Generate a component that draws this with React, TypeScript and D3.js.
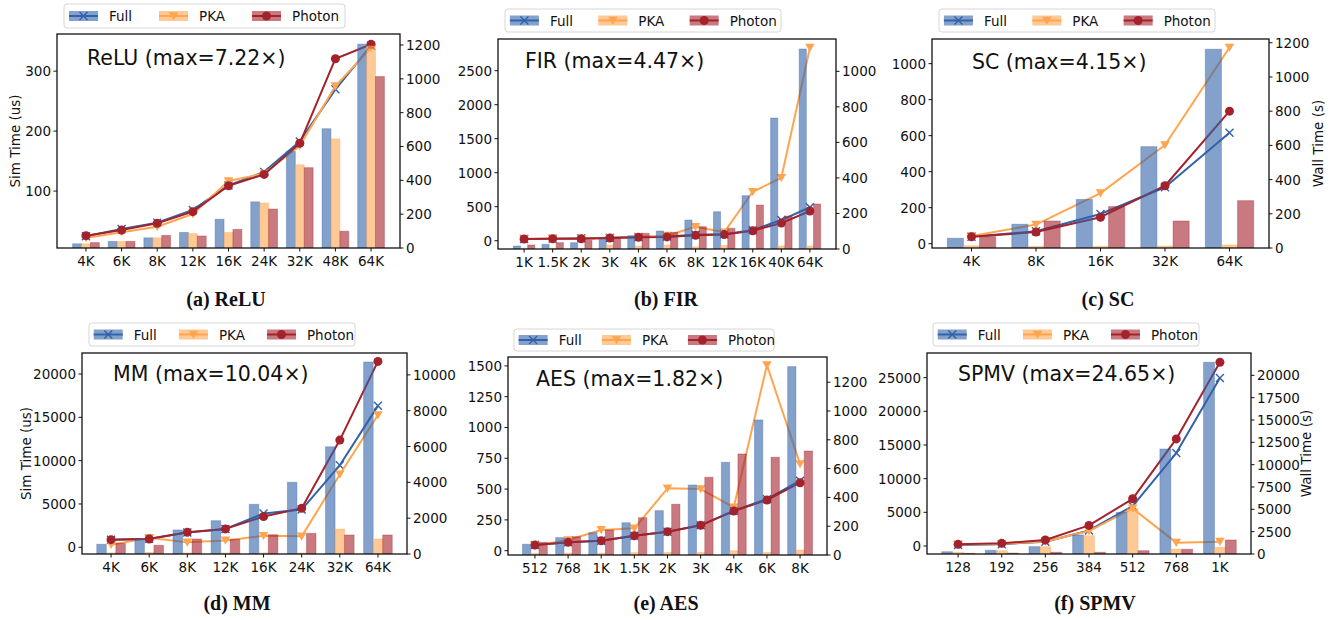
import * as d3 from 'd3'

// ---- data ----
const reluCats = ['4K', '6K', '8K', '12K', '16K', '24K', '32K', '48K', '64K']
const reluFullSim = [12, 16, 22, 31, 53, 82, 166, 204, 345]
const reluPkaSim = [12, 16, 22, 29, 31, 80, 144, 187, 342]
const reluPhotonSim = [14, 16, 26, 25, 36, 70, 139, 33, 291]
const reluFullWall = [70, 112, 150, 225, 370, 450, 630, 938, 1195]
const reluPkaWall = [59, 93, 126, 201, 396, 440, 605, 957, 1184]
const reluPhotonWall = [73, 106, 146, 215, 368, 435, 619, 1119, 1204]
const reluLeftTicks = [100, 200, 300]
const reluRightTicks = [0, 200, 400, 600, 800, 1000, 1200]

const firCats = ['1K', '1.5K', '2K', '3K', '4K', '6K', '8K', '12K', '16K', '40K', '64K']
const firFullSim = [-78, -53, -29, 20, 74, 143, 304, 426, 662, 1804, 2819]
const firPkaSim = [-112, -110, -110, -63, -78, -63, -90, -70, -110, -78, -78]
const firPhotonSim = [-63, -29, 5, 44, 108, 123, 206, 182, 525, 363, 540]
const firFullWall = [56, 58, 60, 63, 68, 71, 80, 83, 106, 163, 235]
const firPkaWall = [56, 58, 58, 62, 66, 75, 125, 94, 322, 401, 1133]
const firPhotonWall = [56, 58, 58, 62, 66, 68, 77, 81, 103, 146, 214]
const firLeftTicks = [0, 500, 1000, 1500, 2000, 2500]
const firRightTicks = [0, 200, 400, 600, 800, 1000]

const scCats = ['4K', '8K', '16K', '32K', '64K']
const scFullSim = [30, 108, 246, 539, 1080]
const scPkaSim = [-11, -15, -15, -13, -7]
const scPhotonSim = [39, 126, 206, 126, 239]
const scFullWall = [66, 98, 199, 355, 674]
const scPkaWall = [70, 137, 321, 602, 1172]
const scPhotonWall = [66, 93, 180, 364, 800]
const scLeftTicks = [0, 200, 400, 600, 800, 1000]
const scRightTicks = [0, 200, 400, 600, 800, 1000, 1200]

const mmCats = ['4K', '6K', '8K', '12K', '16K', '24K', '32K', '64K']
const mmFullSim = [350, 920, 2000, 3070, 4960, 7500, 11600, 21380]
const mmPkaSim = [-650, -580, -650, -650, -650, -650, 2110, 960]
const mmPhotonSim = [460, 230, 960, 920, 1450, 1610, 1420, 1420]
const mmFullWall = [800, 850, 1200, 1400, 2260, 2480, 4950, 8270]
const mmPkaWall = [520, 900, 650, 760, 1020, 985, 4440, 7760]
const mmPhotonWall = [800, 840, 1210, 1400, 2090, 2550, 6360, 10750]
const mmLeftTicks = [0, 5000, 10000, 15000, 20000]
const mmRightTicks = [0, 2000, 4000, 6000, 8000, 10000]

const aesCats = ['512', '768', '1K', '1.5K', '2K', '3K', '4K', '6K', '8K']
const aesFullSim = [52, 106, 146, 227, 325, 533, 717, 1061, 1494]
const aesPkaSim = [-21, -20, -20, -15, -15, -15, 0, -15, 5]
const aesPhotonSim = [68, 114, 168, 268, 377, 596, 785, 758, 809]
const aesFullWall = [69, 88, 99, 134, 162, 206, 308, 388, 516]
const aesPkaWall = [65, 104, 174, 185, 463, 458, 331, 1319, 632]
const aesPhotonWall = [69, 88, 99, 134, 162, 206, 305, 382, 502]
const aesLeftTicks = [0, 250, 500, 750, 1000, 1250, 1500]
const aesRightTicks = [0, 200, 400, 600, 800, 1000, 1200]

const spmvCats = ['128', '192', '256', '384', '512', '768', '1K']
const spmvFullSim = [-850, -640, -100, 1630, 5000, 14400, 27280]
const spmvPkaSim = [-940, -700, -100, 1530, 5540, -450, -200]
const spmvPhotonSim = [-1100, -1060, -940, -940, -700, -490, 890]
const spmvFullWall = [1000, 1100, 1380, 2640, 5360, 11300, 19690]
const spmvPkaWall = [1050, 1150, 1400, 2570, 5100, 1270, 1380]
const spmvPhotonWall = [1080, 1190, 1570, 3200, 6180, 12880, 21470]
const spmvLeftTicks = [0, 5000, 10000, 15000, 20000, 25000]
const spmvRightTicks = [0, 2500, 5000, 7500, 10000, 12500, 15000, 17500, 20000]

const seriesNames = ['Full', 'PKA', 'Photon']
const BLUE = '#3262a8'
const ORANGE = '#ffa54f'
const RED = '#a3222b'
const colors = [BLUE, ORANGE, RED]
const markers = ['x', 'v', 'o']

const FONT = 'DejaVu Sans, sans-serif'
const TICK_SIZE = 13.5

type Layout = {
  left: number; right: number; top: number; bottom: number
  leftDomain: [number, number]; rightDomain: [number, number]
  legend: [number, number, number, number]
  title: [number, number]
  caption: [number, number]
  leftLabelX?: number
  rightLabelX?: number
}

type PanelData = {
  id: string
  title: string
  caption: string
  cats: string[]
  sim: number[][]
  wall: number[][]
  leftTicks: number[]
  rightTicks: number[]
  layout: Layout
}

const panels: PanelData[] = [
  {
    id: 'relu', title: 'ReLU (max=7.22×)', caption: '(a) ReLU', cats: reluCats,
    sim: [reluFullSim, reluPkaSim, reluPhotonSim], wall: [reluFullWall, reluPkaWall, reluPhotonWall],
    leftTicks: reluLeftTicks, rightTicks: reluRightTicks,
    layout: { left: 57, right: 400, top: 34, bottom: 248, leftDomain: [5, 362], rightDomain: [0, 1265],
      legend: [64, 4, 281, 24], title: [87, 65], caption: [226, 306], leftLabelX: 15 },
  },
  {
    id: 'fir', title: 'FIR (max=4.47×)', caption: '(b) FIR', cats: firCats,
    sim: [firFullSim, firPkaSim, firPhotonSim], wall: [firFullWall, firPkaWall, firPhotonWall],
    leftTicks: firLeftTicks, rightTicks: firRightTicks,
    layout: { left: 498, right: 836, top: 39, bottom: 249, leftDomain: [-122, 2966], rightDomain: [0, 1182],
      legend: [505, 9, 276, 23], title: [525, 68], caption: [666, 306] },
  },
  {
    id: 'sc', title: 'SC (max=4.15×)', caption: '(c) SC', cats: scCats,
    sim: [scFullSim, scPkaSim, scPhotonSim], wall: [scFullWall, scPkaWall, scPhotonWall],
    leftTicks: scLeftTicks, rightTicks: scRightTicks,
    layout: { left: 932, right: 1269, top: 39, bottom: 248, leftDomain: [-24, 1137], rightDomain: [0, 1222],
      legend: [939, 9, 276, 23], title: [972, 69], caption: [1108, 306], rightLabelX: 1318 },
  },
  {
    id: 'mm', title: 'MM (max=10.04×)', caption: '(d) MM', cats: mmCats,
    sim: [mmFullSim, mmPkaSim, mmPhotonSim], wall: [mmFullWall, mmPkaWall, mmPhotonWall],
    leftTicks: mmLeftTicks, rightTicks: mmRightTicks,
    layout: { left: 82, right: 407, top: 353, bottom: 554, leftDomain: [-773, 22420], rightDomain: [0, 11220],
      legend: [89, 323, 266, 23], title: [113, 381], caption: [237, 610], leftLabelX: 26 },
  },
  {
    id: 'aes', title: 'AES (max=1.82×)', caption: '(e) AES', cats: aesCats,
    sim: [aesFullSim, aesPkaSim, aesPhotonSim], wall: [aesFullWall, aesPkaWall, aesPhotonWall],
    leftTicks: aesLeftTicks, rightTicks: aesRightTicks,
    layout: { left: 508, right: 827, top: 357, bottom: 555, leftDomain: [-35, 1572], rightDomain: [0, 1375],
      legend: [514, 329, 260, 22], title: [536, 386], caption: [666, 610] },
  },
  {
    id: 'spmv', title: 'SPMV (max=24.65×)', caption: '(f) SPMV', cats: spmvCats,
    sim: [spmvFullSim, spmvPkaSim, spmvPhotonSim], wall: [spmvFullWall, spmvPkaWall, spmvPhotonWall],
    leftTicks: spmvLeftTicks, rightTicks: spmvRightTicks,
    layout: { left: 927, right: 1251, top: 353, bottom: 554, leftDomain: [-1190, 28660], rightDomain: [0, 22500],
      legend: [933, 323, 266, 23], title: [958, 381], caption: [1095, 610], rightLabelX: 1306 },
  },
]

function Marker({ kind, x, y, color }: { kind: string; x: number; y: number; color: string }) {
  if (kind === 'o') return <circle cx={x} cy={y} r={4.5} fill={color} />
  if (kind === 'v') {
    const s = 4.8
    return <path d={`M${x - s},${y - s * 0.8}L${x + s},${y - s * 0.8}L${x},${y + s * 0.9}Z`} fill={color} />
  }
  const s = 4
  return (
    <path d={`M${x - s},${y - s}L${x + s},${y + s}M${x - s},${y + s}L${x + s},${y - s}`}
      stroke={color} strokeWidth={1.4} fill="none" />
  )
}

function Legend({ box }: { box: [number, number, number, number] }) {
  const [lx, ly, lw, lh] = box
  const k = lw / 281
  const offsets = [5, 95, 188]
  const cy = ly + lh / 2
  return (
    <g>
      <rect x={lx} y={ly} width={lw} height={lh} rx={3} fill="white" fillOpacity={0.85} stroke="#d6d6d6" strokeWidth={1} />
      {seriesNames.map((name, i) => {
        const hx = lx + offsets[i] * k
        return (
          <g key={name}>
            <rect x={hx} y={cy - 5} width={29} height={10} fill={colors[i]} fillOpacity={0.6} />
            <line x1={hx} x2={hx + 29} y1={cy} y2={cy} stroke={colors[i]} strokeWidth={2} />
            <Marker kind={markers[i]} x={hx + 14.5} y={cy} color={colors[i]} />
            <text x={hx + 40} y={cy} dominantBaseline="central" fontSize={13.5} fontFamily={FONT} fill="#111">{name}</text>
          </g>
        )
      })}
    </g>
  )
}

function Panel({ p }: { p: PanelData }) {
  const L = p.layout
  const n = p.cats.length
  const span = n - 1 + 0.75
  const x = d3.scaleLinear()
    .domain([-0.375 - 0.05 * span, n - 1 + 0.375 + 0.05 * span])
    .range([L.left, L.right])
  const yL = d3.scaleLinear().domain(L.leftDomain).range([L.bottom, L.top])
  const yR = d3.scaleLinear().domain(L.rightDomain).range([L.bottom, L.top])
  const unit = x(1) - x(0)
  const bw = unit * 0.25
  const line = d3.line<number>().x((_, i) => x(i)).y(d => yR(d))
  const clipId = `clip-${p.id}`

  return (
    <g>
      <defs>
        <clipPath id={clipId}>
          <rect x={L.left} y={L.top} width={L.right - L.left} height={L.bottom - L.top} />
        </clipPath>
      </defs>
      <g clipPath={`url(#${clipId})`}>
        {/* lines (right axis) */}
        {p.wall.map((vals, s) => (
          <g key={`l${s}`}>
            <path d={line(vals) || ''} fill="none" stroke={colors[s]} strokeWidth={2} strokeLinejoin="round" />
            {vals.map((v, i) => (
              <Marker key={i} kind={markers[s]} x={x(i)} y={yR(v)} color={colors[s]} />
            ))}
          </g>
        ))}
        {/* bars (left axis), semi-transparent, over the lines */}
        {p.sim.map((vals, s) => (
          <g key={`b${s}`}>
            {vals.map((v, i) => {
              const top = yL(Math.max(v, L.leftDomain[0]))
              const cx = x(i) + (s - 1) * bw
              return (
                <rect key={i} x={cx - bw / 2} y={top} width={bw} height={Math.max(0, L.bottom - top)}
                  fill={colors[s]} fillOpacity={0.6} stroke={colors[s]} strokeOpacity={0.35} strokeWidth={1} />
              )
            })}
          </g>
        ))}
      </g>

      <rect x={L.left} y={L.top} width={L.right - L.left} height={L.bottom - L.top}
        fill="none" stroke="#111" strokeWidth={1.3} />

      {/* left axis */}
      {p.leftTicks.map(t => (
        <g key={`lt${t}`}>
          <line x1={L.left - 3.5} x2={L.left} y1={yL(t)} y2={yL(t)} stroke="#111" strokeWidth={1} />
          <text x={L.left - 6} y={yL(t)} textAnchor="end" dominantBaseline="central"
            fontSize={TICK_SIZE} fontFamily={FONT} fill="#111">{t}</text>
        </g>
      ))}
      {/* right axis */}
      {p.rightTicks.map(t => (
        <g key={`rt${t}`}>
          <line x1={L.right} x2={L.right + 3.5} y1={yR(t)} y2={yR(t)} stroke="#111" strokeWidth={1} />
          <text x={L.right + 6} y={yR(t)} textAnchor="start" dominantBaseline="central"
            fontSize={TICK_SIZE} fontFamily={FONT} fill="#111">{t}</text>
        </g>
      ))}
      {/* x axis */}
      {p.cats.map((c, i) => (
        <g key={`xt${c}`}>
          <line x1={x(i)} x2={x(i)} y1={L.bottom} y2={L.bottom + 3.5} stroke="#111" strokeWidth={1} />
          <text x={x(i)} y={L.bottom + 17.5} textAnchor="middle" fontSize={TICK_SIZE} fontFamily={FONT} fill="#111">{c}</text>
        </g>
      ))}

      {L.leftLabelX !== undefined && (
        <text transform={`translate(${L.leftLabelX},${(L.top + L.bottom) / 2}) rotate(-90)`}
          textAnchor="middle" dominantBaseline="central" fontSize={13.5} fontFamily={FONT} fill="#111">Sim Time (us)</text>
      )}
      {L.rightLabelX !== undefined && (
        <text transform={`translate(${L.rightLabelX},${(L.top + L.bottom) / 2}) rotate(-90)`}
          textAnchor="middle" dominantBaseline="central" fontSize={13.5} fontFamily={FONT} fill="#111">Wall Time (s)</text>
      )}

      <text x={L.title[0]} y={L.title[1]} fontSize={20.5} fontFamily={FONT} fill="#111">{p.title}</text>

      <Legend box={L.legend} />

      <text x={L.caption[0]} y={L.caption[1]} textAnchor="middle" fontSize={20} fontWeight="bold"
        fontFamily="Liberation Serif, DejaVu Serif, serif" fill="#111">{p.caption}</text>
    </g>
  )
}

export default function App() {
  return (
    <svg width={1340} height={620} style={{ position: 'absolute', left: 0, top: 0, background: 'white' }}>
      <rect width={1340} height={620} fill="white" />
      {panels.map(p => <Panel key={p.id} p={p} />)}
    </svg>
  )
}
